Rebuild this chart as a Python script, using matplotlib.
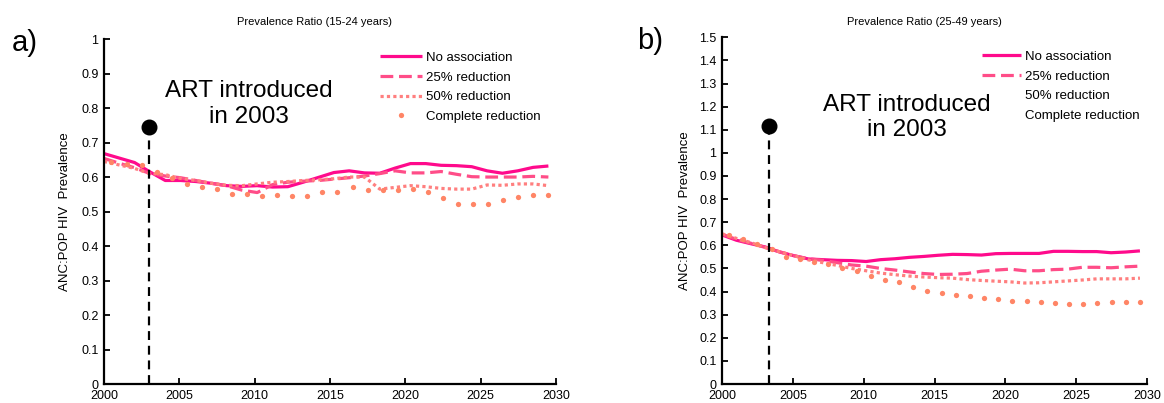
import numpy as np
import matplotlib
matplotlib.use("Agg")
import matplotlib.pyplot as plt

# ============================================================
# DATA
# ============================================================

years = np.linspace(2000, 2029.5, 30)
dot_years = np.arange(2000, 2030) + 0.5

# panel a: 15-24 years
a_none = [0.668, 0.655, 0.642, 0.615, 0.590, 0.590, 0.587, 0.582, 0.575, 0.573,
          0.575, 0.571, 0.572, 0.585, 0.599, 0.613, 0.618, 0.612, 0.611, 0.626,
          0.639, 0.639, 0.634, 0.633, 0.630, 0.618, 0.611, 0.618, 0.628, 0.632]
a_25 = [0.654, 0.640, 0.627, 0.610, 0.603, 0.598, 0.590, 0.582, 0.575, 0.562,
        0.555, 0.578, 0.585, 0.588, 0.590, 0.594, 0.598, 0.603, 0.610, 0.618,
        0.612, 0.612, 0.616, 0.608, 0.601, 0.600, 0.600, 0.600, 0.602, 0.600]
a_50 = [0.645, 0.635, 0.625, 0.610, 0.607, 0.596, 0.590, 0.582, 0.576, 0.575,
        0.580, 0.585, 0.587, 0.590, 0.592, 0.595, 0.600, 0.600, 0.565, 0.570,
        0.575, 0.572, 0.567, 0.565, 0.565, 0.577, 0.576, 0.580, 0.580, 0.575]
a_full = [0.645, 0.637, 0.636, 0.615, 0.598, 0.580, 0.570, 0.564, 0.552, 0.550,
          0.546, 0.547, 0.546, 0.544, 0.556, 0.557, 0.571, 0.561, 0.561, 0.561,
          0.564, 0.557, 0.538, 0.523, 0.521, 0.521, 0.532, 0.542, 0.549, 0.549]

# panel b: 25-49 years
b_none = [0.645, 0.622, 0.607, 0.593, 0.571, 0.555, 0.541, 0.538, 0.535, 0.534,
          0.530, 0.538, 0.542, 0.548, 0.552, 0.557, 0.561, 0.560, 0.558, 0.564,
          0.565, 0.565, 0.565, 0.574, 0.574, 0.573, 0.573, 0.568, 0.571, 0.576]
b_25 = [0.648, 0.626, 0.609, 0.591, 0.572, 0.555, 0.542, 0.535, 0.525, 0.515,
        0.510, 0.500, 0.493, 0.485, 0.478, 0.474, 0.475, 0.478, 0.488, 0.493,
        0.497, 0.490, 0.490, 0.495, 0.497, 0.505, 0.505, 0.503, 0.507, 0.510]
b_50 = [0.650, 0.630, 0.612, 0.590, 0.572, 0.555, 0.537, 0.525, 0.513, 0.500,
        0.490, 0.480, 0.473, 0.467, 0.463, 0.460, 0.458, 0.452, 0.448, 0.445,
        0.442, 0.437, 0.438, 0.442, 0.446, 0.450, 0.455, 0.455, 0.455, 0.458]
b_full = [0.645, 0.627, 0.607, 0.585, 0.548, 0.541, 0.528, 0.521, 0.502, 0.487,
          0.469, 0.451, 0.440, 0.421, 0.404, 0.395, 0.384, 0.379, 0.372, 0.368,
          0.360, 0.360, 0.355, 0.352, 0.346, 0.346, 0.352, 0.355, 0.355, 0.355]

labels = ["No association", "25% reduction", "50% reduction", "Complete reduction"]
colors = ["#FF0A8C", "#FF4D88", "#FF7F7F", "#FF8566"]

plt.rcParams["font.family"] = ["Liberation Sans", "DejaVu Sans"]

# ============================================================
# PLOT
# ============================================================

fig = plt.figure(figsize=(11.64, 4.03), dpi=100)
ax_a = fig.add_axes([0.0893, 0.0471, 0.3883, 0.856])
ax_b = fig.add_axes([0.6203, 0.0471, 0.3651, 0.8603])


def draw_panel(ax, none, r25, r50, full, ymax, art_x, art_y, text_x, text_y,
               leg_x, leg_y, hlen, hide_last):
    h1, = ax.plot(years, none, color=colors[0], lw=2.3, solid_capstyle="butt")
    h2, = ax.plot(years, r25, color=colors[1], lw=2.3, linestyle=(0, (4, 1.8)),
                  dash_capstyle="butt")
    h3, = ax.plot(years, r50, color=colors[2], lw=2.3, linestyle=(0, (1, 1)),
                  dash_capstyle="butt")
    h4, = ax.plot(dot_years, full, linestyle="none", marker="o", ms=3.8,
                  color=colors[3], mec="none")

    # ART introduction marker
    ax.plot([art_x, art_x], [0, art_y], color="black", lw=1.6,
            linestyle=(0, (4, 2.6)))
    ax.plot([art_x], [art_y], marker="o", ms=10.5, color="black")
    ax.text(text_x, text_y, "ART introduced\nin 2003", fontsize=17.5,
            ha="center", va="center", linespacing=1.2)

    ax.set_xlim(2000, 2030)
    ax.set_ylim(0, ymax)
    ax.set_xticks(np.arange(2000, 2031, 5))
    ax.set_yticks(np.round(np.arange(0, ymax + 0.01, 0.1), 1))
    ax.yaxis.set_major_formatter(matplotlib.ticker.FormatStrFormatter("%g"))
    ax.tick_params(direction="in", length=4, width=1.3, labelsize=9, pad=4)
    ax.tick_params(axis="x", pad=4)
    for s in ["top", "right"]:
        ax.spines[s].set_visible(False)
    for s in ["left", "bottom"]:
        ax.spines[s].set_linewidth(1.6)

    ax.set_ylabel("ANC:POP HIV  Prevalence", fontsize=9.5)
    ax.yaxis.set_label_coords(-0.072, 0.5)

    leg = ax.legend([h1, h2, h3, h4], labels, loc="upper left",
                    bbox_to_anchor=(leg_x, leg_y), frameon=False, fontsize=9.5,
                    handlelength=hlen, handletextpad=0.32, labelspacing=0.56,
                    borderpad=0, borderaxespad=0, numpoints=1)
    if hide_last:
        for h in leg.legend_handles[2:]:
            h.set_visible(False)


draw_panel(ax_a, a_none, a_25, a_50, a_full, 1.0, 2003, 0.745, 2009.6, 0.812,
           0.611, 0.963, 3.15, False)
draw_panel(ax_b, b_none, b_25, b_50, b_full, 1.5, 2003.33, 1.117, 2013.05, 1.154,
           0.611, 0.961, 2.98, True)

fig.text(0.27, 0.945, "Prevalence Ratio (15-24 years)", fontsize=8,
         ha="center", va="center")
fig.text(0.794, 0.945, "Prevalence Ratio (25-49 years)", fontsize=8,
         ha="center", va="center")
fig.text(0.0103, 0.893, "a)", fontsize=21, ha="left", va="center")
fig.text(0.547, 0.898, "b)", fontsize=21, ha="left", va="center")

plt.savefig("out.png", dpi=100)
